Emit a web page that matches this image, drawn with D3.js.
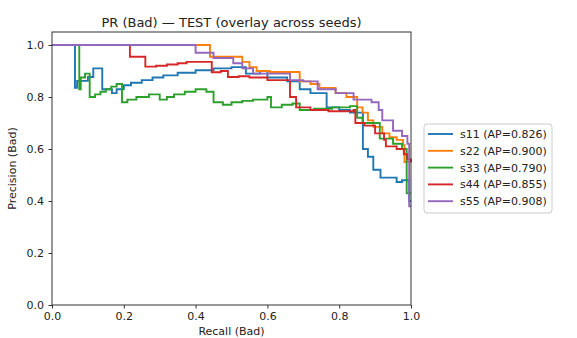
<!DOCTYPE html>
<html>
<head>
<meta charset="utf-8">
<script src="https://cdn.jsdelivr.net/npm/d3@7"></script>
<style>
body { margin: 0; background: #fff; }
svg { font-family: "DejaVu Sans", sans-serif; }
</style>
</head>
<body>
<svg id="chart"></svg>
<script>
// recall, precision pairs (step after)
var s11 = [[0,1],[0.064,0.835],[0.07,0.862],[0.10,0.877],[0.115,0.91],[0.14,0.83],[0.167,0.815],[0.18,0.83],[0.2,0.845],[0.22,0.855],[0.25,0.865],[0.28,0.875],[0.31,0.883],[0.35,0.893],[0.4,0.903],[0.45,0.91],[0.5,0.915],[0.54,0.89],[0.58,0.9],[0.6,0.875],[0.655,0.86],[0.69,0.83],[0.72,0.815],[0.765,0.76],[0.8,0.75],[0.83,0.74],[0.866,0.6],[0.88,0.57],[0.895,0.52],[0.915,0.49],[0.94,0.49],[0.96,0.473],[0.975,0.48],[0.995,0.40],[1.0,0.40]];
var s22 = [[0,1],[0.44,0.955],[0.53,0.935],[0.55,0.915],[0.57,0.9],[0.607,0.896],[0.69,0.86],[0.72,0.85],[0.745,0.835],[0.79,0.815],[0.82,0.80],[0.85,0.76],[0.865,0.74],[0.88,0.71],[0.895,0.685],[0.92,0.66],[0.94,0.645],[0.96,0.635],[0.978,0.615],[0.982,0.55],[1.0,0.55]];
var s33 = [[0,1],[0.076,0.83],[0.08,0.875],[0.092,0.89],[0.105,0.80],[0.12,0.81],[0.135,0.82],[0.15,0.83],[0.165,0.84],[0.18,0.85],[0.195,0.78],[0.21,0.79],[0.235,0.80],[0.27,0.81],[0.3,0.79],[0.32,0.80],[0.34,0.81],[0.37,0.82],[0.40,0.83],[0.43,0.82],[0.45,0.78],[0.476,0.77],[0.5,0.78],[0.53,0.785],[0.56,0.79],[0.6,0.80],[0.61,0.76],[0.64,0.77],[0.67,0.775],[0.69,0.75],[0.73,0.755],[0.78,0.76],[0.83,0.765],[0.85,0.72],[0.865,0.70],[0.913,0.64],[0.95,0.62],[0.975,0.60],[0.988,0.43],[1.0,0.43]];
var s44 = [[0,1],[0.217,0.955],[0.26,0.917],[0.29,0.92],[0.32,0.925],[0.35,0.93],[0.375,0.935],[0.445,0.895],[0.47,0.9],[0.49,0.877],[0.52,0.88],[0.55,0.875],[0.6,0.865],[0.663,0.80],[0.68,0.76],[0.72,0.75],[0.77,0.745],[0.82,0.745],[0.84,0.75],[0.845,0.70],[0.87,0.69],[0.9,0.66],[0.925,0.635],[0.93,0.61],[0.96,0.6],[0.98,0.58],[0.99,0.56],[1.0,0.55]];
var s55 = [[0,1],[0.40,0.97],[0.45,0.95],[0.505,0.93],[0.53,0.91],[0.56,0.89],[0.663,0.865],[0.70,0.86],[0.74,0.83],[0.79,0.815],[0.84,0.79],[0.89,0.78],[0.91,0.75],[0.92,0.71],[0.95,0.67],[0.975,0.65],[0.99,0.62],[0.995,0.38],[1.0,0.38]];

var names = ["s11","s22","s33","s44","s55"];
var apValues = [0.826, 0.900, 0.790, 0.855, 0.908];
var colors = ["#1f77b4","#ff7f0e","#2ca02c","#d62728","#9467bd"];
var tickValues = [0, 0.2, 0.4, 0.6, 0.8, 1.0];

var allSeries = [s11, s22, s33, s44, s55];

var width = 577, height = 338;
var margin = {top: 32, right: 166, bottom: 33, left: 52};
var w = width - margin.left - margin.right;
var h = height - margin.top - margin.bottom;

var svg = d3.select("#chart").attr("width", width).attr("height", height);

var x = d3.scaleLinear().domain([0, 1]).range([0, w]);
var y = d3.scaleLinear().domain([0, 1.05]).range([h, 0]);

var g = svg.append("g").attr("transform", "translate(" + margin.left + "," + margin.top + ")");

var line = d3.line()
  .x(function(d) { return x(d[0]); })
  .y(function(d) { return y(d[1]); })
  .curve(d3.curveStepAfter);

allSeries.forEach(function(s, i) {
  g.append("path").datum(s)
    .attr("fill", "none")
    .attr("stroke", colors[i])
    .attr("stroke-width", 1.9)
    .attr("d", line);
});

// axes
var xAxis = g.append("g").attr("transform", "translate(0," + h + ")")
  .call(d3.axisBottom(x).tickValues(tickValues).tickFormat(d3.format(".1f")).tickSizeOuter(0).tickSize(3.5).tickPadding(4));
var yAxis = g.append("g")
  .call(d3.axisLeft(y).tickValues(tickValues).tickFormat(d3.format(".1f")).tickSizeOuter(0).tickSize(3.5).tickPadding(4.5));
[xAxis, yAxis].forEach(function(a) {
  a.select(".domain").remove();
  a.selectAll("text").attr("font-size", 11).attr("fill", "#222").style("font-family", "DejaVu Sans");
  a.selectAll("line").attr("stroke", "#333");
});

// frame
g.append("rect").attr("width", w).attr("height", h)
  .attr("fill", "none").attr("stroke", "#333").attr("stroke-width", 1);

svg.append("text")
  .attr("x", margin.left + w / 2).attr("y", 27)
  .attr("text-anchor", "middle").attr("font-size", 13).attr("fill", "#222")
  .text("PR (Bad) \u2014 TEST (overlay across seeds)");

svg.append("text")
  .attr("x", margin.left + w / 2).attr("y", 335)
  .attr("text-anchor", "middle").attr("font-size", 11).attr("fill", "#222")
  .text("Recall (Bad)");

svg.append("text")
  .attr("transform", "translate(16," + (margin.top + h / 2) + ") rotate(-90)")
  .attr("text-anchor", "middle").attr("font-size", 11).attr("fill", "#222")
  .text("Precision (Bad)");

// legend
var lg = svg.append("g").attr("transform", "translate(424,124)");
lg.append("rect").attr("width", 128).attr("height", 89).attr("rx", 3)
  .attr("fill", "#fff").attr("stroke", "#ccc");
names.forEach(function(n, i) {
  var yy = 10 + i * 16.8;
  lg.append("line").attr("x1", 4).attr("x2", 29).attr("y1", yy).attr("y2", yy)
    .attr("stroke", colors[i]).attr("stroke-width", 1.9);
  lg.append("text").attr("x", 36).attr("y", yy + 4).attr("font-size", 11).attr("fill", "#222")
    .text(n + " (AP=" + apValues[i].toFixed(3) + ")");
});
</script>
</body>
</html>
